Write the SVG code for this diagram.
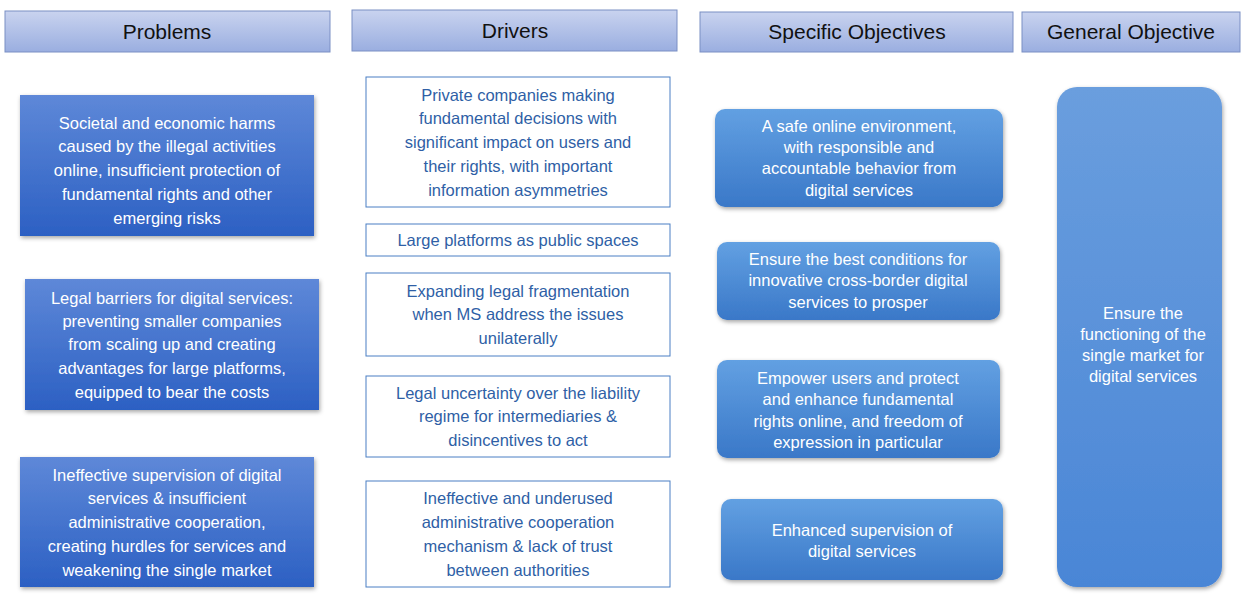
<svg xmlns="http://www.w3.org/2000/svg" width="1248" height="606" viewBox="0 0 1248 606">
<style>
text{font-family:"Liberation Sans",Arial,sans-serif;text-anchor:middle}
.h{font-size:21px;fill:#111}
.p{font-size:16.5px;fill:#fff}
.d{font-size:16.5px;fill:#2f5fa6}
.s{font-size:16.5px;fill:#fff}
.hd{fill:url(#gh);stroke:#7a8fc4;stroke-width:1}
.pb{fill:url(#gp);filter:url(#sh)}
.db{fill:#fff;stroke:#4a7fc4;stroke-width:1}
.sb{fill:url(#gs);filter:url(#sh)}
</style>
<defs>
<linearGradient id="gh" x1="0" y1="0" x2="0" y2="1"><stop offset="0" stop-color="#c9d3ef"/><stop offset="1" stop-color="#9aaee0"/></linearGradient>
<linearGradient id="gp" x1="0" y1="0" x2="0" y2="1"><stop offset="0" stop-color="#5e88d8"/><stop offset="1" stop-color="#2c60c3"/></linearGradient>
<linearGradient id="gs" x1="0" y1="0" x2="0" y2="1"><stop offset="0" stop-color="#62a0e2"/><stop offset="1" stop-color="#3a78c8"/></linearGradient>
<linearGradient id="gg" x1="0" y1="0" x2="0" y2="1"><stop offset="0" stop-color="#6a9ede"/><stop offset="1" stop-color="#4a86d6"/></linearGradient>
<filter id="sh" x="-5%" y="-5%" width="110%" height="115%"><feDropShadow dx="1" dy="2" stdDeviation="2" flood-color="#000" flood-opacity="0.35"/></filter>
</defs>
<g id="headers">
<g id="h-problems"><rect class="hd" x="5" y="11" width="325" height="41"/><text class="h" x="167" y="39">Problems</text></g>
<g id="h-drivers"><rect class="hd" x="352" y="10" width="325" height="41"/><text class="h" x="515" y="38">Drivers</text></g>
<g id="h-specific"><rect class="hd" x="700" y="12" width="313" height="40"/><text class="h" x="857" y="39">Specific Objectives</text></g>
<g id="h-general"><rect class="hd" x="1022" y="12" width="218" height="40"/><text class="h" x="1131" y="39">General Objective</text></g>
</g>
<g id="p1"><rect class="pb" x="20" y="95" width="294" height="141"/>
<text class="p" x="167" y="129">Societal and economic harms</text><text class="p" x="167" y="152">caused by the illegal activities</text><text class="p" x="167" y="176">online, insufficient protection of</text><text class="p" x="167" y="200">fundamental rights and other</text><text class="p" x="167" y="224">emerging risks</text></g>
<g id="p2"><rect class="pb" x="25" y="279" width="294" height="131"/>
<text class="p" x="172" y="304">Legal barriers for digital services:</text><text class="p" x="172" y="327">preventing smaller companies</text><text class="p" x="172" y="350">from scaling up and creating</text><text class="p" x="172" y="374">advantages for large platforms,</text><text class="p" x="172" y="398">equipped to bear the costs</text></g>
<g id="p3"><rect class="pb" x="20" y="457" width="294" height="130"/>
<text class="p" x="167" y="481">Ineffective supervision of digital</text><text class="p" x="167" y="504">services &amp; insufficient</text><text class="p" x="167" y="528">administrative cooperation,</text><text class="p" x="167" y="552">creating hurdles for services and</text><text class="p" x="167" y="576">weakening the single market</text></g>
<g id="d1"><rect class="db" x="366" y="77" width="304" height="130"/>
<text class="d" x="518" y="101">Private companies making</text><text class="d" x="518" y="124">fundamental decisions with</text><text class="d" x="518" y="148">significant impact on users and</text><text class="d" x="518" y="172">their rights, with important</text><text class="d" x="518" y="196">information asymmetries</text></g>
<g id="d2"><rect class="db" x="366" y="224" width="304" height="32"/><text class="d" x="518" y="246">Large platforms as public spaces</text></g>
<g id="d3"><rect class="db" x="366" y="273" width="304" height="83"/>
<text class="d" x="518" y="297">Expanding legal fragmentation</text><text class="d" x="518" y="320">when MS address the issues</text><text class="d" x="518" y="344">unilaterally</text></g>
<g id="d4"><rect class="db" x="366" y="376" width="304" height="81"/>
<text class="d" x="518" y="399">Legal uncertainty over the liability</text><text class="d" x="518" y="422">regime for intermediaries &amp;</text><text class="d" x="518" y="446">disincentives to act</text></g>
<g id="d5"><rect class="db" x="366" y="481" width="304" height="106"/>
<text class="d" x="518" y="504">Ineffective and underused</text><text class="d" x="518" y="528">administrative cooperation</text><text class="d" x="518" y="552">mechanism &amp; lack of trust</text><text class="d" x="518" y="576">between authorities</text></g>
<g id="s1"><rect class="sb" x="715" y="109" width="288" height="98" rx="10"/>
<text class="s" x="859" y="132">A safe online environment,</text><text class="s" x="859" y="153">with responsible and</text><text class="s" x="859" y="174">accountable behavior from</text><text class="s" x="859" y="196">digital services</text></g>
<g id="s2"><rect class="sb" x="717" y="242" width="283" height="78" rx="10"/>
<text class="s" x="858" y="265">Ensure the best conditions for</text><text class="s" x="858" y="286">innovative cross-border digital</text><text class="s" x="858" y="308">services to prosper</text></g>
<g id="s3"><rect class="sb" x="717" y="360" width="283" height="98" rx="10"/>
<text class="s" x="858" y="384">Empower users and protect</text><text class="s" x="858" y="405">and enhance  fundamental</text><text class="s" x="858" y="427">rights online, and freedom of</text><text class="s" x="858" y="448">expression in particular</text></g>
<g id="s4"><rect class="sb" x="721" y="499" width="282" height="81" rx="10"/>
<text class="s" x="862" y="536">Enhanced supervision of</text><text class="s" x="862" y="557">digital services</text></g>
<g id="g1"><rect x="1057" y="87" width="165" height="500" rx="20" fill="url(#gg)" filter="url(#sh)"/>
<text class="s" x="1143" y="319">Ensure the</text><text class="s" x="1143" y="340">functioning of the</text><text class="s" x="1143" y="361">single market for</text><text class="s" x="1143" y="382">digital services</text></g>
<g id="connectors"/>
</svg>
